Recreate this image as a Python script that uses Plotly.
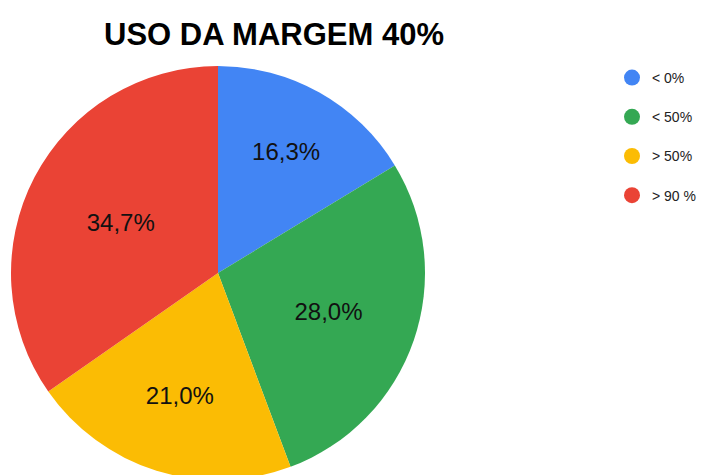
import plotly.graph_objects as go

labels = ["< 0%", "< 50%", "> 50%", "> 90 %"]
values = [16.3, 28.0, 21.0, 34.7]
colors = ["#4285F4", "#34A853", "#FBBC04", "#EA4335"]

# the page puts the figure 8px in from the top-left corner
W, H = 706, 480

fig = go.Figure()

fig.add_trace(go.Pie(
    labels=labels, values=values, sort=False, direction="clockwise", rotation=0,
    marker=dict(colors=colors, line=dict(width=0)),
    texttemplate="%{percent:.1%}", textposition="inside",
    insidetextorientation="horizontal",
    textfont=dict(family="Liberation Sans, Arial", size=24, color="#111111"),
    showlegend=False, hoverinfo="label+percent",
    domain=dict(x=[3 / W, 417 / W], y=[(H - 472) / H, (H - 58) / H]),
))

# circle markers for the legend
for i, (lab, col) in enumerate(zip(labels, colors)):
    fig.add_trace(go.Scatter(
        x=[None], y=[None], mode="markers", name=lab, legendgroup=str(i),
        marker=dict(color=col, size=20, symbol="circle"),
    ))

fig.update_layout(
    width=W, height=H,
    margin=dict(l=0, r=0, t=0, b=0),
    paper_bgcolor="white", plot_bgcolor="white",
    separators=",.",
    xaxis=dict(visible=False), yaxis=dict(visible=False),
    title=dict(text="<b>USO DA MARGEM 40%</b>", x=266 / W, xanchor="center",
               y=(H - 26) / H, yanchor="middle", yref="paper",
               font=dict(family="Liberation Sans, Arial", size=31, color="#000000")),
    legend=dict(x=604 / W, xanchor="left", y=(H - 54) / H, yanchor="top",
                tracegroupgap=18, itemsizing="trace",
                font=dict(family="Liberation Sans, Arial", size=14, color="#222222")),
)

fig.write_html("out.html")
